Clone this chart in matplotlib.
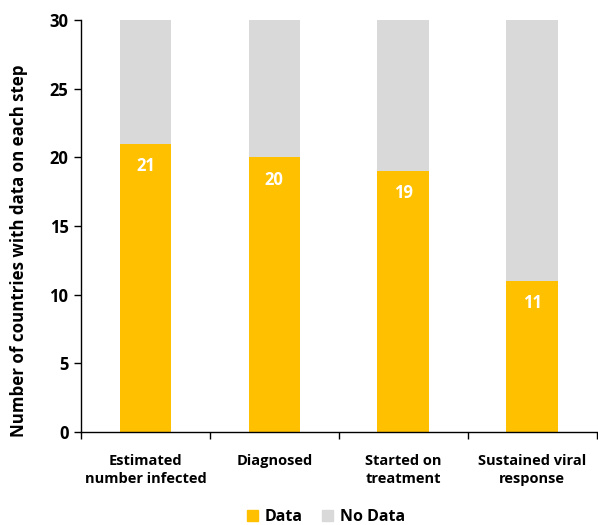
import numpy as np
import matplotlib.pyplot as plt
from matplotlib.patches import Patch

# countries reporting each step of the care cascade
steps = ['Estimated\nnumber infected', 'Diagnosed', 'Started on\ntreatment', 'Sustained viral\nresponse']
with_data = np.array([21, 20, 19, 11])
total = 30
no_data = total - with_data

orange = '#FFC000'
grey = '#D9D9D9'

plt.rcParams['font.family'] = ['Open Sans', 'DejaVu Sans']
plt.rcParams['font.weight'] = 'bold'

fig = plt.figure(figsize=(5.98, 5.25), dpi=100)
ax = fig.add_axes([0.1355, 0.177, 0.862, 0.785])

x = np.arange(len(steps))
ax.bar(x, with_data, width=0.4, color=orange, zorder=2)
ax.bar(x, no_data, width=0.4, bottom=with_data, color=grey, zorder=2)

for xi, v in zip(x, with_data):
    ax.annotate(str(v), (xi, v), xytext=(0, -16), textcoords='offset points',
                ha='center', va='center', color='white', fontsize=12, fontweight='bold')

ax.set_xlim(-0.5, 3.5)
ax.set_ylim(0, 30)
ax.set_yticks(range(0, 31, 5))
ax.set_xticks(x)
ax.set_xticklabels(steps, fontsize=10.5, fontweight='bold', linespacing=1.3)
ax.set_xticks(np.arange(-0.5, 3.6, 1), minor=True)
ax.tick_params(axis='x', which='major', length=0, pad=16)
ax.tick_params(axis='x', which='minor', length=5, direction='out', width=1)
ax.tick_params(axis='y', length=5, width=1, labelsize=12, pad=4)
for lab in ax.get_yticklabels():
    lab.set_fontweight('bold')

for s in ['top', 'right']:
    ax.spines[s].set_visible(False)
ax.spines['left'].set_linewidth(1)
ax.spines['bottom'].set_linewidth(1)

ax.set_ylabel('Number of countries with data on each step', fontsize=12.2,
              fontweight='bold')
ax.yaxis.set_label_coords(-0.102, 0.44)

handles = [Patch(color=orange, label='Data'), Patch(color=grey, label='No Data')]
fig.legend(handles=handles, loc='lower center', bbox_to_anchor=(0.545, -0.028), ncol=2,
           frameon=False, fontsize=11.5, handlelength=0.7, handleheight=0.7,
           handletextpad=0.4, columnspacing=1.2)

fig.savefig('out.png', dpi=100)
